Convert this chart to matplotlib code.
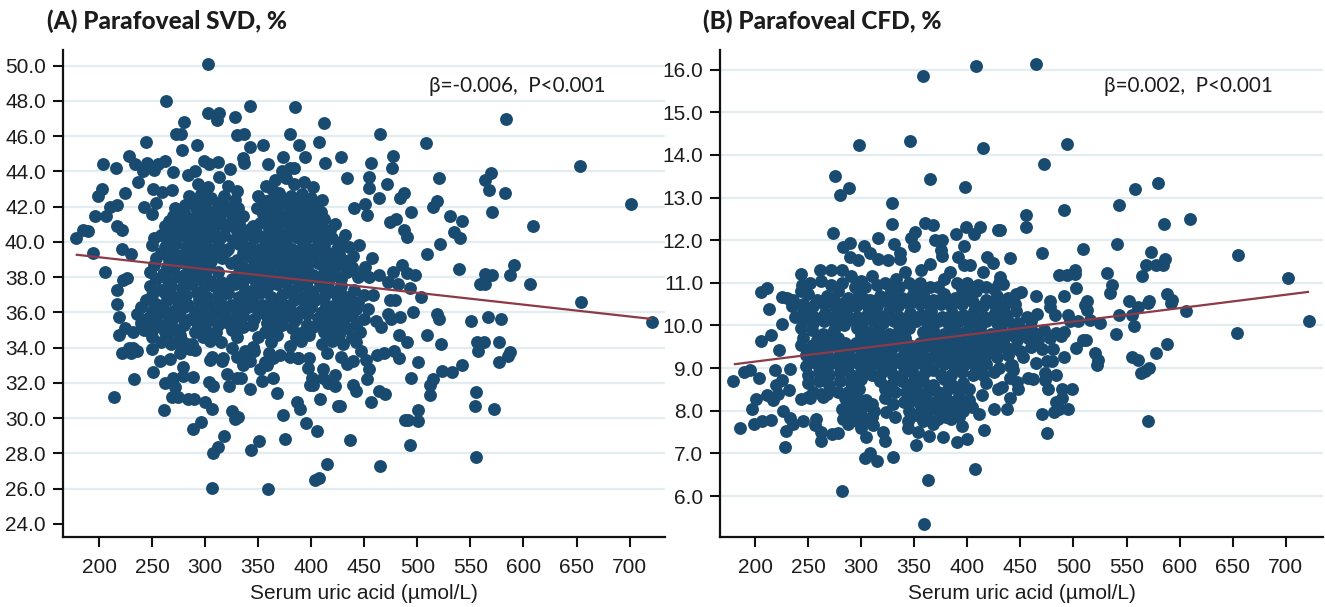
import matplotlib
matplotlib.use("Agg")
import matplotlib.pyplot as plt
import numpy as np

plt.rcParams["font.family"] = ["Liberation Sans", "DejaVu Sans"]

TITLE_A = "(A) Parafoveal SVD, %"
TITLE_B = "(B) Parafoveal CFD, %"
NOTE_A = "β=-0.006,  P<0.001"
NOTE_B = "β=0.002,  P<0.001"
XLABEL = "Serum uric acid (µmol/L)"
x_ticks = list(range(200, 701, 50))
svd_ticks = list(range(24, 51, 2))
cfd_ticks = list(range(6, 17))
svd_fit_x = [178, 721]
svd_fit_y = [39.28, 35.63]
cfd_fit_x = [180, 722]
cfd_fit_y = [9.09, 10.79]

svd_outer = [
(178,40.24),(185,40.7),(190,40.6),(194,39.4),(206,38.3),(196.5,41.5),(204,44.45),(216,44.2),(202.5,43),(199.4,42.6),
(206.6,41.5),(210,42),(216.7,42.1),(224.5,42.8),(217,40.9),(221.4,40.7),(222,39.6),(230,39.3),(223,37.85),(226.7,37.95),
(216.7,37.3),(228,44.9),(234,44.45),(236.5,43.4),(244,45.65),(245,44.5),(241.5,44),(252,44.1),(256,44.4),(262.5,44.6),
(242,42),(250,41.6),(253.5,42.2),(251,43),(259,42.85),(269,42.95),(263,48),(272.5,46.15),(277.5,46.1),(280,46.8),
(278.5,45.2),(292,45.5),(302.5,50.1),(302.5,47.3),(313.4,47.3),(311.5,46.9),(328.5,47.1),(342.3,47.7),(384.4,47.65),
(330.3,46.05),(337,46.1),(342.6,45.4),(354.5,45.5),(380.3,46.1),(388.8,45.5),(394,44.8),(407.3,45.65),(412,46.75),
(413,44.5),(299,44.6),(303.6,44.45),(312.4,44.55),(337,44.5),(336,44.75),(373,44.8),(359.5,44.45),(384,44.2),
(323.4,44.15),(313,43.7),(290.5,44),(284,43.8),(270,43.95),(465,46.15),(508,45.6),(584,47),(653,44.3),(701,42.15),
(428,44.8),(456,44.5),(477,44.85),(476,44.2),(433.4,43.65),(454.4,43.7),(454.4,43.05),(471.4,43.3),(464,42.5),
(520,43.65),(569,43.9),(564,43.5),(568,42.95),(583,42.8),(487.7,42.8),(484,42.5),(519,42.3),(515,42),(450.7,42.15),
(440,41.9),(453,41.55),(494,41.7),(531,41.5),(542,41.2),(570,41.7),(480,41.3),(474,41.15),(487.7,40.65),(490,40.3),
(535,40.55),(540,40.25),(521,39.9),(609,40.9),(445,39.8),(509,39.3),(439,39.2),(457,39.1),(431.5,38.7),(486,38.7),
(450.7,38.6),(539,38.45),(591,38.7),(587,38.1),(564,38.2),(570,38.15),(605.8,37.6),(559,37.6),(564,37.6),(498,38.15),
(490,38.25),(477,38.3),(464,38.1),(454.7,38),(472,37.7),(482,37.6),(493,37.4),(450,38.4),(654,36.6),(721,35.45),
(503,36.85),(450,37),(458,37),(429,37),(439,36.6),(474.2,36.7),(479,36.7),(453.5,36.2),(496,36),(472.6,35.9),
(475,35.6),(484,35.75),(461,35.5),(465.5,35.15),(519,35.9),(520,35.65),(551,35.5),(567,35.75),(579,35.6),(482.4,34.7),
(490,34.3),(509,34.7),(522,34.2),(556,34.3),(562.5,34.35),(577,34.3),(557,33.8),(587.6,33.75),(585,33.55),(577,33.2),
(542,33),(533,32.6),(523,32.7),(500.6,33.2),(482.4,33.4),(478,33.8),(469,33.7),(462,33.6),(447,33.8),(451.6,33.3),
(439.7,33.25),(433.4,33.1),(454.4,32.8),(453,32.2),(494,32.3),(515,32.25),(512,31.9),(512,31.3),(555,31.5),(439,31.9),
(442,31.55),(464,31.55),(469.5,31.4),(554,30.7),(572,30.55),(456,30.9),(427,30.7),(501,30.45),(501,29.85),(488.4,29.9),
(491.5,29.9),(436.5,28.75),(493,28.5),(555,27.8),(465,27.3),(214.4,31.2),(232.7,32.2),(251.2,32.6),(261.3,30.45),
(262,32),(268.8,31.2),(274,31.2),(272,31.75),(270,32.3),(279.5,32.9),(279.5,32.4),(289,32.35),(284,31.1),(289.2,31.1),
(299.6,30.9),(306.2,30.55),(296.4,29.8),(288.3,29.4),(304,32.05),(307.7,31.8),(317.5,28.97),(312.4,28.35),(307,28),
(306.2,26.05),(359.2,26),(343.2,28.2),(350.4,28.7),(375.3,28.8),(373.4,30.2),(325.3,30.4),(328.4,29.95),(331,30.05),
(342.3,31.65),(322.2,31.8),(320.3,32.5),(329.7,32.3),(334,32.3),(353.3,32.1),(364.2,32.3),(367.4,31.45),(386.9,30.9),
(389.4,30.5),(395.4,29.75),(405,29.25),(414.6,27.4),(403.5,26.5),(407.3,26.6),(408.3,31.1),(397.2,32.85),(400.4,32.3),
(398.8,31.9),(402,31.9),(410.8,32.8),(411.4,32.3),(416,32),(422.4,32.45),(422.4,31.8),(425.5,30.7),(351.7,32.8),
(358,33),(336,33),(342.3,33.25),(329.7,33.5),(337.6,33.8),(345.4,34.05),(360.5,33.7),(370.6,33.6),(380,33.45),
(387.8,33.4),(315.6,33.25),(306.2,33.45),(290.5,33.85),(282.6,34.2),(276.3,33.7),(273.2,34.35),(267,33.35),(257.5,33.25),
(249.7,33.9),(219,35.75),(216.7,36.5),(224.5,35.1),(232.3,34.9),(219,34.7),(222,33.7),(228,34),(230,33.7),(232,34),(236,33.8),
]
svd_core = [
(293,43.3),(303,43.1),(322,43.2),(330,42.9),(357,43.2),(366,43.5),(376,43.6),(384,43.3),(393,43.4),(402,43.1),(372,44),(380,44.2),(363,43),
(285,42.6),(296,42.7),(306,42.5),(318,42.6),(328,42.4),(350,42.6),(361,42.4),(370,42.8),(381,42.6),(391,42.7),(400,42.5),(410,42.4),
(272,41.9),(281,42.1),(291,41.9),(300,42.1),(310,41.8),(321,42),(331,41.9),(349,41.9),(359,42.1),(369,41.9),(379,42.1),(389,41.9),(399,42),(409,41.7),
(266,41.2),(276,41.4),(286,41.3),(296,41.2),(306,41.4),(316,41.1),(326,41.3),(336,41.5),(352,41.1),(362,41.3),(372,41.5),(382,41.2),(392,41.4),(402,41.1),(412,41.3),(422,41),
(258,40.4),(268,40.5),(278,40.7),(288,40.5),(298,40.7),(308,40.5),(318,40.4),(330,40.6),(340,40.7),(350,40.4),(360,40.6),(370,40.5),(380,40.7),(390,40.5),(400,40.6),(410,40.4),(420,40.2),(432,40.4),
(250,39.8),(262,39.7),(272,39.9),(282,39.7),(292,39.9),(302,39.7),(312,39.8),(322,39.6),(332,39.9),(342,39.7),(352,39.6),(362,39.9),(372,39.8),(382,39.6),(392,39.9),(402,39.6),(412,39.8),(424,39.6),(436,39.7),
(254,39.1),(266,39),(276,39.2),(286,38.9),(296,39.1),(306,38.9),(316,39.1),(330,39),(340,39.2),(350,38.9),(360,39.1),(370,38.9),(380,39.1),(390,39),(400,39.2),(410,38.9),(420,39),(430,39),
(248,38.3),(260,38.2),(270,38.4),(280,38.1),(290,38.3),(300,38.2),(312,38.3),(332,38.3),(342,38.1),(352,38.3),(362,38.2),(372,38.4),(382,38.1),(392,38.3),(402,38.1),(412,38.3),(422,38.1),(434,38.3),(444,38),
(248,37.5),(258,37.3),(268,37.5),(278,37.4),(288,37.6),(298,37.3),(308,37.5),(318,37.4),(328,37.6),(338,37.3),(348,37.5),(358,37.4),(368,37.6),(378,37.3),(388,37.5),(398,37.3),(408,37.5),(418,37.3),(428,37.5),(440,37.3),
(244,36.7),(254,36.5),(264,36.7),(274,36.6),(284,36.4),(294,36.7),(304,36.5),(314,36.7),(324,36.4),(334,36.6),(344,36.7),(354,36.4),(364,36.6),(374,36.4),(384,36.7),(394,36.5),(404,36.7),(414,36.4),(424,36.6),(434,36.4),(444,36.6),
(236,35.9),(246,35.7),(256,35.9),(266,35.7),(276,35.8),(286,35.6),(296,35.9),(306,35.7),(316,35.9),(326,35.6),(336,35.8),(346,35.6),(356,35.9),(366,35.6),(376,35.8),(386,35.6),(396,35.9),(406,35.7),(416,35.8),(426,35.6),(438,35.8),(450,35.6),
(242,35),(252,35.1),(262,34.9),(272,35),(290,34.9),(300,35.1),(310,34.9),(325,35),(336,35.2),(356,34.9),(366,35),(382,35.1),(392,34.9),(402,35.2),(412,34.9),(422,35),(434,35.1),(446,34.9),
(258,34.3),(268,34.2),(278,34.4),(288,34.2),(305,34.4),(315,34.3),(325,34),(345,34),(362,34.3),(380,34.1),(390,34.4),(410,34.2),(420,34.4),(430,34.2),(442,34.3),
(286,33.9),(305,33.3),(317,33.4),(336,33.4),(346,33.8),(356,33.2),(364,33.4),(388,33.4),(398,33.4),(415,33.7),(428,33.5),
]
svd_fill = [
(288,42.3),(298,42.4),(312,42.2),(356,42.3),(366,42.2),(376,42.4),(386,42.3),(396,42.2),(405,42.1),
(270,41.5),(280,41.7),(292,41.6),(303,41.7),(314,41.5),(325,41.6),(355,41.6),(365,41.7),(375,41.5),(385,41.7),(395,41.6),(405,41.5),
(262,40.9),(272,41),(282,40.9),(292,41),(302,40.9),(312,41),(322,40.9),(332,41),(345,40.9),(358,41),(368,40.9),(378,41),(388,40.9),(398,41),(408,40.9),(418,40.7),
(252,40.2),(264,40.1),(274,40.3),(284,40.2),(294,40.1),(304,40.3),(314,40.2),(326,40.1),(336,40.3),(346,40.2),(356,40.1),(366,40.3),(376,40.1),(386,40.3),(396,40.2),(406,40.1),(416,40.3),(428,40),
(258,39.4),(270,39.5),(280,39.3),(290,39.5),(300,39.4),(310,39.3),(320,39.5),(336,39.4),(346,39.5),(356,39.3),(366,39.5),(376,39.4),(386,39.3),(396,39.5),(406,39.3),(416,39.4),(426,39.3),
(252,38.7),(264,38.6),(274,38.8),(284,38.6),(294,38.7),(304,38.6),(324,38.8),(336,38.6),(346,38.7),(356,38.6),(366,38.8),(376,38.6),(386,38.7),(396,38.6),(406,38.8),(416,38.6),(426,38.7),(438,38.6),
(254,37.9),(265,37.8),(275,38),(285,37.8),(295,37.9),(305,37.8),(315,37.7),(325,37.9),(336,37.8),(346,37.9),(356,37.8),(366,38),(376,37.8),(386,37.9),(396,37.8),(406,37.9),(416,37.7),(428,37.9),
(250,37),(262,37.1),(272,36.9),(282,37),(292,37.1),(302,36.9),(312,37),(322,37.1),(332,36.9),(342,37),(352,37.1),(362,36.9),(372,37),(382,37.1),(392,36.9),(402,37),(412,36.9),(422,37.1),(436,36.9),
(240,36.3),(250,36.1),(260,36.2),(270,36.1),(280,36.3),(290,36.1),(300,36.2),(310,36.1),(320,36.2),(330,36.1),(340,36.3),(350,36.1),(360,36.2),(370,36),(380,36.2),(390,36.1),(400,36.3),(410,36),(420,36.2),(430,36),(442,36.2),
(240,35.4),(250,35.5),(258,35.3),(268,35.4),(280,35.3),(292,35.4),(302,35.5),(312,35.3),(322,35.4),(332,35.5),(344,35.3),(358,35.4),(372,35.3),(384,35.5),(396,35.3),(408,35.4),(418,35.3),(430,35.5),(442,35.3),
(250,34.6),(264,34.6),(276,34.7),(298,34.6),(308,34.7),(330,34.6),(350,34.6),(368,34.7),(386,34.6),(398,34.7),(416,34.6),(426,34.7),(438,34.6),
]
cfd_outer = [
(358,15.86),(408,16.09),(298,14.23),(346,14.32),(415,14.17),(275,13.5),(289,13.23),(280,13.06),(365,13.44),(398,13.25),
(329,12.88),(329,12.38),(360,12.4),(367.4,12.35),(351,12.2),(347,12.04),(399,12.3),(412,12.3),(389.6,12.15),(406,12.15),
(428.6,12.24),(273,12.18),(316,12.04),(289.5,11.93),(283,11.85),(303,11.86),(330.7,11.9),(350,11.87),(369.6,12),(376.5,12),
(375,11.76),(376,11.64),(397,11.86),(336.6,11.7),(337,11.56),(391,11.6),(419,11.6),(424.5,11.46),(365,11.44),(397,11.42),
(402.6,11.42),(308,11.7),(289.5,11.6),(297.3,11.53),(316,11.57),(325.6,11.53),(356,11.3),(415,11.25),(465,16.14),(494,14.26),
(472,13.79),(580,13.35),(558,13.2),(543,12.83),(491,12.7),(455,12.6),(455,12.3),(610,12.5),(585,12.37),(431,12.24),
(541,11.9),(509,11.8),(470,11.7),(440,11.58),(573,11.73),(655,11.65),(702,11.11),(586,11.55),(584.5,11.42),(577.5,11.42),
(568.5,11.42),(565,11.17),(532,11.22),(486.7,11.18),(493.7,11.18),(501.8,11.2),(501,11.3),(431,11.13),(434,10.97),(536,10.95),
(534,10.77),(502,10.87),(491,10.7),(465,10.7),(451,10.78),(477.6,10.57),(512.8,10.57),(552,10.57),(571,10.57),(588,10.75),
(592.6,10.6),(722,10.1),(654,9.82),(606,10.35),(591.7,10.52),(570.6,10.53),(561,10.44),(555,10.25),(543,10.25),(557,9.98),
(540,9.8),(525,10.05),(515.7,10.13),(504.6,10.1),(496.8,10.1),(495,10.25),(512.5,10.36),(511,10.48),(482.6,10.25),(478,10.44),
(466,10.28),(588,9.57),(577.5,9.35),(555.5,9.27),(561,9.2),(571,9),(567,8.93),(564,8.88),(570,7.75),(522,9.07),(523.4,9.2),
(520,9.35),(512,9.67),(508.7,9.65),(502.5,9.47),(491,9.84),(488,9.75),(484,9.82),(478,9.7),(491,9.25),(481,9.44),(479.5,9.17),
(474.8,9.17),(465,9.13),(484,8.83),(499,8.52),(489,8.52),(475.7,8.5),(473,8.88),(473,8.72),(462,8.75),(457.5,8.77),(489,8.3),
(484,8.2),(495,8.04),(486.7,8.05),(482,7.98),(470,7.93),(475,7.47),(437,8.04),(440,8.3),(448,8.5),(446.6,8.68),(440,8.76),
(432.4,8.55),(443.3,8.96),(441.8,9.07),(179,8.7),(186,7.59),(189.6,8.9),(195.3,8.95),(204,8.78),(201,8.28),(197,8.05),
(198.8,7.7),(207,7.75),(215.4,7.78),(205.4,9.63),(215,9.78),(213,10.39),(225,10.03),(223,9.42),(228.3,7.15),(229,7.53),
(236,7.68),(245.5,7.77),(257,7.8),(256.5,7.67),(262,7.5),(262.2,7.28),(272.2,7.45),(278,7.47),(231.8,8.49),(211,8.37),
(217,8.25),(226.7,8),(233,7.82),(243.3,8.28),(250,8.33),(264.4,8.33),(233,8.98),(225,8.72),(218.8,8.95),(220,8.6),(222,8.4),
(281.7,6.12),(303.6,6.9),(308.3,7),(315,6.83),(330,6.92),(351.7,7.2),(363,6.38),(359,5.35),(407,6.63),(400,7.33),(415.5,7.56),
(411,7.92),(390,7.27),(377.4,7.39),(364,7.42),(353.8,7.5),(344.4,7.6),(322.5,7.29),(321,7.5),(311.5,7.66),(304.3,7.39),
(332,7.86),(323,7.98),(425.5,8.05),(429,8.52),(413.6,8.37),(418,8.66),(206,10.79),(211,10.87),(225,10.67),(230,10.64),(236,10.6),
(237.7,10.2),(245.5,10.32),
]
cfd_core = [
(243,11.2),(244,10.95),(243,10.8),(261,11.3),(272,11.3),(282,11.3),(290,11.15),(300,11.05),(310,11.15),(322,11),(333,11.1),(341,11.25),(345,11),(355,11),(365,10.9),(378,11.1),(384,11.25),(390,11),(400,11),(410,10.95),(418,10.9),(430,11),
(250,10.75),(258,10.6),(268,10.7),(278,10.8),(288,10.65),(298,10.75),(308,10.6),(318,10.7),(328,10.8),(338,10.65),(348,10.7),(358,10.75),(368,10.6),(378,10.75),(388,10.65),(398,10.7),(408,10.8),(418,10.6),(428,10.7),(438,10.65),(446,10.75),
(246,10.3),(256,10.2),(266,10.3),(276,10.25),(286,10.35),(296,10.2),(306,10.3),(316,10.25),(326,10.35),(336,10.2),(346,10.3),(356,10.25),(366,10.35),(376,10.2),(386,10.3),(396,10.25),(406,10.35),(416,10.2),(426,10.3),(436,10.25),(446,10.35),(456,10.2),
(243,9.95),(254,9.9),(264,9.8),(274,9.9),(284,10),(296,9.95),(306,9.85),(316,9.9),(326,9.8),(336,9.9),(345,9.95),(358,9.85),(368,9.9),(378,9.8),(388,9.9),(398,9.85),(412,9.95),(422,9.8),(432,9.9),(442,9.85),(452,9.9),(462,9.85),(472,9.9),
(243,9.55),(250,9.4),(260,9.45),(270,9.5),(280,9.45),(290,9.5),(300,9.45),(310,9.5),(320,9.4),(330,9.5),(340,9.45),(350,9.4),(360,9.5),(370,9.45),(380,9.4),(390,9.5),(400,9.45),(410,9.5),(420,9.4),(430,9.5),(440,9.45),(450,9.4),(460,9.5),(470,9.45),
(248,9.05),(258,9.1),(268,9),(278,9.1),(288,9.05),(298,9.1),(308,9),(318,9.1),(328,9.05),(338,9.1),(348,9),(358,9.1),(368,8.95),(378,9.1),(388,9),(398,9.1),(408,9),(418,9.1),(430,9),(440,9.05),
(250,8.65),(260,8.7),(270,8.6),(280,8.7),(290,8.65),(300,8.75),(318,8.7),(328,8.6),(338,8.7),(348,8.65),(358,8.7),(368,8.6),(378,8.75),(386,8.6),(396,8.65),
(252,8.3),(262,8.4),(285,8.3),(295,8.35),(305,8.25),(322,8.3),(340,8.2),(350,8.4),(360,8.3),(370,8.2),(380,8.3),(392,8.35),(402,8.25),
(282,8.05),(292,8),(302,8.1),(312,8),(345,8),(356,8),(366,8.05),(376,7.95),(386,8.05),(396,8),(404,8.1),(296,7.75),(306,7.8),(300,7.6),(344,7.75),(358,7.75),(368,7.7),(385,7.8),(395,7.65),(283,7.8),(288,7.7),
]
cfd_fill = [
(252,11),(262,11.05),(272,10.95),(282,11),(294,10.9),(304,10.9),(315,10.95),(326,10.95),(336,10.9),(350,10.85),(372,10.9),(395,10.85),(405,10.9),(425,10.85),
(235,10.45),(245,10.5),(255,10.45),(265,10.5),(275,10.45),(285,10.55),(295,10.45),(305,10.5),(315,10.45),(325,10.55),(335,10.45),(345,10.5),(355,10.5),(365,10.45),(375,10.5),(385,10.45),(395,10.5),(405,10.55),(415,10.45),(425,10.5),(435,10.45),(445,10.5),
(245,10.1),(255,10.05),(265,10.1),(275,10.05),(290,10.15),(301,10.05),(311,10.1),(321,10.05),(331,10.1),(341,10.05),(352,10.1),(362,10.05),(372,10.1),(382,10.05),(392,10.1),(402,10.05),(418,10.1),(428,10.05),(438,10.1),(448,10.05),(460,10.1),
(245,9.7),(258,9.65),(268,9.65),(278,9.7),(301,9.65),(311,9.7),(321,9.65),(331,9.65),(341,9.7),(362,9.65),(372,9.7),(382,9.65),(392,9.7),(405,9.65),(415,9.7),(425,9.65),(435,9.7),(447,9.65),(457,9.7),(467,9.65),
(248,9.3),(258,9.25),(268,9.3),(278,9.25),(288,9.3),(298,9.25),(308,9.3),(318,9.25),(328,9.3),(338,9.25),(348,9.25),(358,9.3),(368,9.25),(378,9.3),(388,9.25),(398,9.3),(408,9.25),(418,9.3),(428,9.25),(438,9.3),(452,9.25),
(250,8.85),(260,8.9),(270,8.85),(280,8.9),(290,8.85),(300,8.9),(310,8.85),(320,8.9),(330,8.85),(340,8.9),(350,8.85),(360,8.9),(375,8.85),(385,8.85),(395,8.9),(405,8.85),(415,8.85),(425,8.9),
(255,8.45),(268,8.4),(278,8.45),(288,8.45),(298,8.5),(322,8.5),(332,8.45),(342,8.45),(352,8.5),(362,8.45),(372,8.45),(382,8.5),(392,8.45),(402,8.5),
(290,8.15),(300,8.2),(310,8.15),(330,8.15),(345,8.2),(355,8.15),(365,8.2),(375,8.15),(385,8.2),(395,8.15),
(290,7.85),(300,7.9),(310,7.85),(352,7.9),(362,7.85),(372,7.8),(380,7.85),(392,7.85),
]
cfd_dense = [
(264,10.58),(274,10.6),(283,10.5),(293,10.6),(303,10.62),(313,10.58),(323,10.6),(333,10.62),(343,10.58),(353,10.62),(363,10.55),(373,10.6),(383,10.58),(393,10.6),(403,10.62),
(262,10.18),(272,10.15),(281,10.2),(292,10.12),(302,10.18),(313,10.15),(322,10.2),(333,10.12),(343,10.18),(353,10.15),(362,10.2),(373,10.12),(383,10.18),(393,10.15),(403,10.2),(413,10.1),(423,10.2),(433,10.15),
(261,9.75),(271,9.78),(300,9.78),(310,9.8),(320,9.78),(330,9.75),(340,9.8),(364,9.78),(374,9.75),(384,9.78),(394,9.75),(404,9.8),(418,9.75),(428,9.8),(438,9.78),
(255,9.55),(265,9.58),(275,9.55),(285,9.6),(295,9.58),(305,9.6),(315,9.55),(325,9.6),(335,9.58),(345,9.55),(355,9.6),(365,9.58),(375,9.55),(385,9.6),(395,9.58),(405,9.55),(415,9.6),(425,9.58),(435,9.55),
(253,9.2),(263,9.18),(273,9.2),(283,9.18),(293,9.2),(303,9.18),(313,9.2),(323,9.18),(333,9.2),(343,9.18),(353,9.2),(363,9.18),(373,9.2),(383,9.18),(393,9.2),(403,9.18),(413,9.2),
]

W, H = 1325, 607
INK = "#1c1c1c"
DOT = "#194a70"
GRID = "#e3ecee"
FIT = "#8d3a48"
NOTE_FONT = ["Lato", "DejaVu Sans"]

fig = plt.figure(figsize=(W / 100, H / 100), dpi=100, facecolor="white")


def panel(box, xlim, ylim, yticks, pts_sets, fx, fy, title, title_x, note, note_x):
    l, r, t, b = box
    ax = fig.add_axes([l / W, 1 - b / H, (r - l) / W, (b - t) / H])
    ax.set_xlim(*xlim)
    ax.set_ylim(*ylim)
    pts = np.array(sum(pts_sets, []))
    ax.scatter(pts[:, 0], pts[:, 1], s=86, color=DOT, linewidths=0, zorder=3, clip_on=False)
    ax.plot(fx, fy, color=FIT, lw=1.6, zorder=4, solid_capstyle="butt")
    ax.set_xticks(x_ticks)
    ax.set_yticks(yticks)
    ax.set_yticklabels([f"{v:.1f}" for v in yticks])
    ax.tick_params(axis="both", length=7, width=1.5, color="#111111", labelcolor=INK, labelsize=15, pad=5)
    ax.tick_params(axis="x", pad=8)
    ax.grid(axis="y", color=GRID, lw=1.6, zorder=0)
    ax.set_axisbelow(True)
    if yticks[0] == 24:
        ax.yaxis.get_gridlines()[0].set_visible(False)
    for s in ("top", "right"):
        ax.spines[s].set_visible(False)
    for s in ("left", "bottom"):
        ax.spines[s].set_linewidth(1.6)
        ax.spines[s].set_color("#111111")
    ax.set_xlabel(XLABEL, fontsize=15, color=INK, labelpad=5)
    fig.text(title_x / W, 1 - 21 / H, title, family=NOTE_FONT, fontweight="black", fontsize=17.6,
             color=INK, ha="left", va="center")
    fig.text(note_x / W, 1 - 86 / H, note, family=NOTE_FONT, fontsize=14.9, color=INK, ha="left", va="center")
    return ax


panel((62.5, 665, 50, 537), (165.6, 733.4), (23.26, 50.89), svd_ticks, [svd_outer, svd_core, svd_fill],
      svd_fit_x, svd_fit_y, TITLE_A, 47, NOTE_A, 429)
panel((720, 1323, 50, 537), (167, 735.1), (5.04, 16.46), cfd_ticks, [cfd_outer, cfd_core, cfd_fill, cfd_dense],
      cfd_fit_x, cfd_fit_y, TITLE_B, 703, NOTE_B, 1104)

fig.savefig("out.png", dpi=100)
